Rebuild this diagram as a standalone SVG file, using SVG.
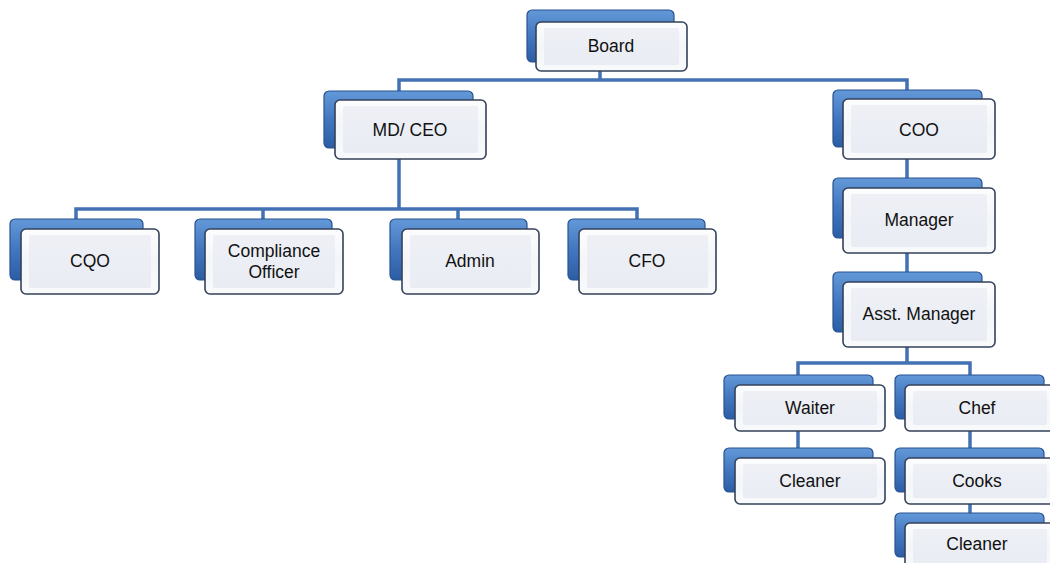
<svg xmlns="http://www.w3.org/2000/svg" width="1050" height="563" viewBox="0 0 1050 563">
<defs>
<linearGradient id="gBack" x1="0" y1="0" x2="0" y2="1">
<stop offset="0" stop-color="#6398d8"/>
<stop offset="0.5" stop-color="#4277bf"/>
<stop offset="1" stop-color="#2c5da4"/>
</linearGradient>
<linearGradient id="gFront" x1="0" y1="0" x2="0" y2="1">
<stop offset="0" stop-color="#fdfdfe"/>
<stop offset="0.5" stop-color="#f3f5f8"/>
<stop offset="1" stop-color="#f9fafc"/>
</linearGradient>
<linearGradient id="gInner" x1="0" y1="0" x2="0" y2="1">
<stop offset="0" stop-color="#eef0f6"/>
<stop offset="1" stop-color="#e9ecf3"/>
</linearGradient>
</defs>
<style>
.back{fill:url(#gBack);stroke:#285391;stroke-width:1.2}
.front{fill:url(#gFront);stroke:#34425a;stroke-width:1.6}
.inner{fill:url(#gInner);stroke:none}
.conn{fill:none;stroke:#4272b2;stroke-width:3.5;stroke-linecap:square}
text{font-family:"Liberation Sans",Arial,sans-serif;font-size:17.5px;fill:#111;text-anchor:middle}
</style>
<rect width="1050" height="563" fill="#ffffff"/>
<g id="connectors">
<path class="conn" d="M600,71 V80 M399,80 H907 M399,80 V91 M907,80 V90"/>
<path class="conn" d="M399,159 V209 M76,209 H637 M76,209 V219 M263,209 V219 M458,209 V219 M637,209 V219"/>
<path class="conn" d="M907,159 V178 M907,253 V272 M907,347 V363 M798,363 H970 M798,363 V375 M970,363 V375"/>
<path class="conn" d="M798,431 V448 M970,431 V448 M970,504 V513"/>
</g>
<g id="board">
<rect class="back" x="527" y="10" width="147" height="52" rx="5"/>
<rect class="front" x="536" y="22" width="151" height="49" rx="5"/>
<rect class="inner" x="544" y="28" width="135" height="37" rx="2"/>
<text x="611" y="52">Board</text>
</g>
<g id="mdceo">
<rect class="back" x="324" y="91" width="149" height="57" rx="5"/>
<rect class="front" x="335" y="100" width="151" height="59" rx="5"/>
<rect class="inner" x="343" y="106" width="135" height="47" rx="2"/>
<text x="410" y="136">MD/ CEO</text>
</g>
<g id="coo">
<rect class="back" x="833" y="90" width="149" height="57" rx="5"/>
<rect class="front" x="843" y="99" width="152" height="60" rx="5"/>
<rect class="inner" x="851" y="105" width="136" height="48" rx="2"/>
<text x="919" y="136">COO</text>
</g>
<g id="manager">
<rect class="back" x="833" y="178" width="149" height="60" rx="5"/>
<rect class="front" x="843" y="188" width="152" height="65" rx="5"/>
<rect class="inner" x="851" y="194" width="136" height="53" rx="2"/>
<text x="919" y="226">Manager</text>
</g>
<g id="asstmanager">
<rect class="back" x="833" y="272" width="149" height="60" rx="5"/>
<rect class="front" x="843" y="282" width="152" height="65" rx="5"/>
<rect class="inner" x="851" y="288" width="136" height="53" rx="2"/>
<text x="919" y="320">Asst. Manager</text>
</g>
<g id="cqo">
<rect class="back" x="10" y="219" width="133" height="61" rx="5"/>
<rect class="front" x="21" y="229" width="138" height="65" rx="5"/>
<rect class="inner" x="29" y="235" width="122" height="53" rx="2"/>
<text x="90" y="267">CQO</text>
</g>
<g id="compliance">
<rect class="back" x="195" y="219" width="137" height="61" rx="5"/>
<rect class="front" x="205" y="229" width="138" height="65" rx="5"/>
<rect class="inner" x="213" y="235" width="122" height="53" rx="2"/>
<text x="274" y="257">Compliance</text>
<text x="274" y="278">Officer</text>
</g>
<g id="admin">
<rect class="back" x="390" y="219" width="137" height="61" rx="5"/>
<rect class="front" x="402" y="229" width="137" height="65" rx="5"/>
<rect class="inner" x="410" y="235" width="121" height="53" rx="2"/>
<text x="470" y="267">Admin</text>
</g>
<g id="cfo">
<rect class="back" x="568" y="219" width="137" height="61" rx="5"/>
<rect class="front" x="579" y="229" width="137" height="65" rx="5"/>
<rect class="inner" x="587" y="235" width="121" height="53" rx="2"/>
<text x="647" y="267">CFO</text>
</g>
<g id="waiter">
<rect class="back" x="724" y="375" width="149" height="44" rx="5"/>
<rect class="front" x="735" y="385" width="150" height="46" rx="5"/>
<rect class="inner" x="743" y="391" width="134" height="34" rx="2"/>
<text x="810" y="414">Waiter</text>
</g>
<g id="cleaner1">
<rect class="back" x="724" y="448" width="149" height="44" rx="5"/>
<rect class="front" x="735" y="458" width="150" height="46" rx="5"/>
<rect class="inner" x="743" y="464" width="134" height="34" rx="2"/>
<text x="810" y="487">Cleaner</text>
</g>
<g id="chef">
<rect class="back" x="895" y="375" width="149" height="44" rx="5"/>
<rect class="front" x="905" y="385" width="150" height="46" rx="5"/>
<rect class="inner" x="913" y="391" width="134" height="34" rx="2"/>
<text x="977" y="414">Chef</text>
</g>
<g id="cooks">
<rect class="back" x="895" y="448" width="149" height="44" rx="5"/>
<rect class="front" x="905" y="458" width="150" height="46" rx="5"/>
<rect class="inner" x="913" y="464" width="134" height="34" rx="2"/>
<text x="977" y="487">Cooks</text>
</g>
<g id="cleaner2">
<rect class="back" x="895" y="513" width="149" height="44" rx="5"/>
<rect class="front" x="905" y="523" width="150" height="46" rx="5"/>
<rect class="inner" x="913" y="529" width="134" height="34" rx="2"/>
<text x="977" y="550">Cleaner</text>
</g>
</svg>
